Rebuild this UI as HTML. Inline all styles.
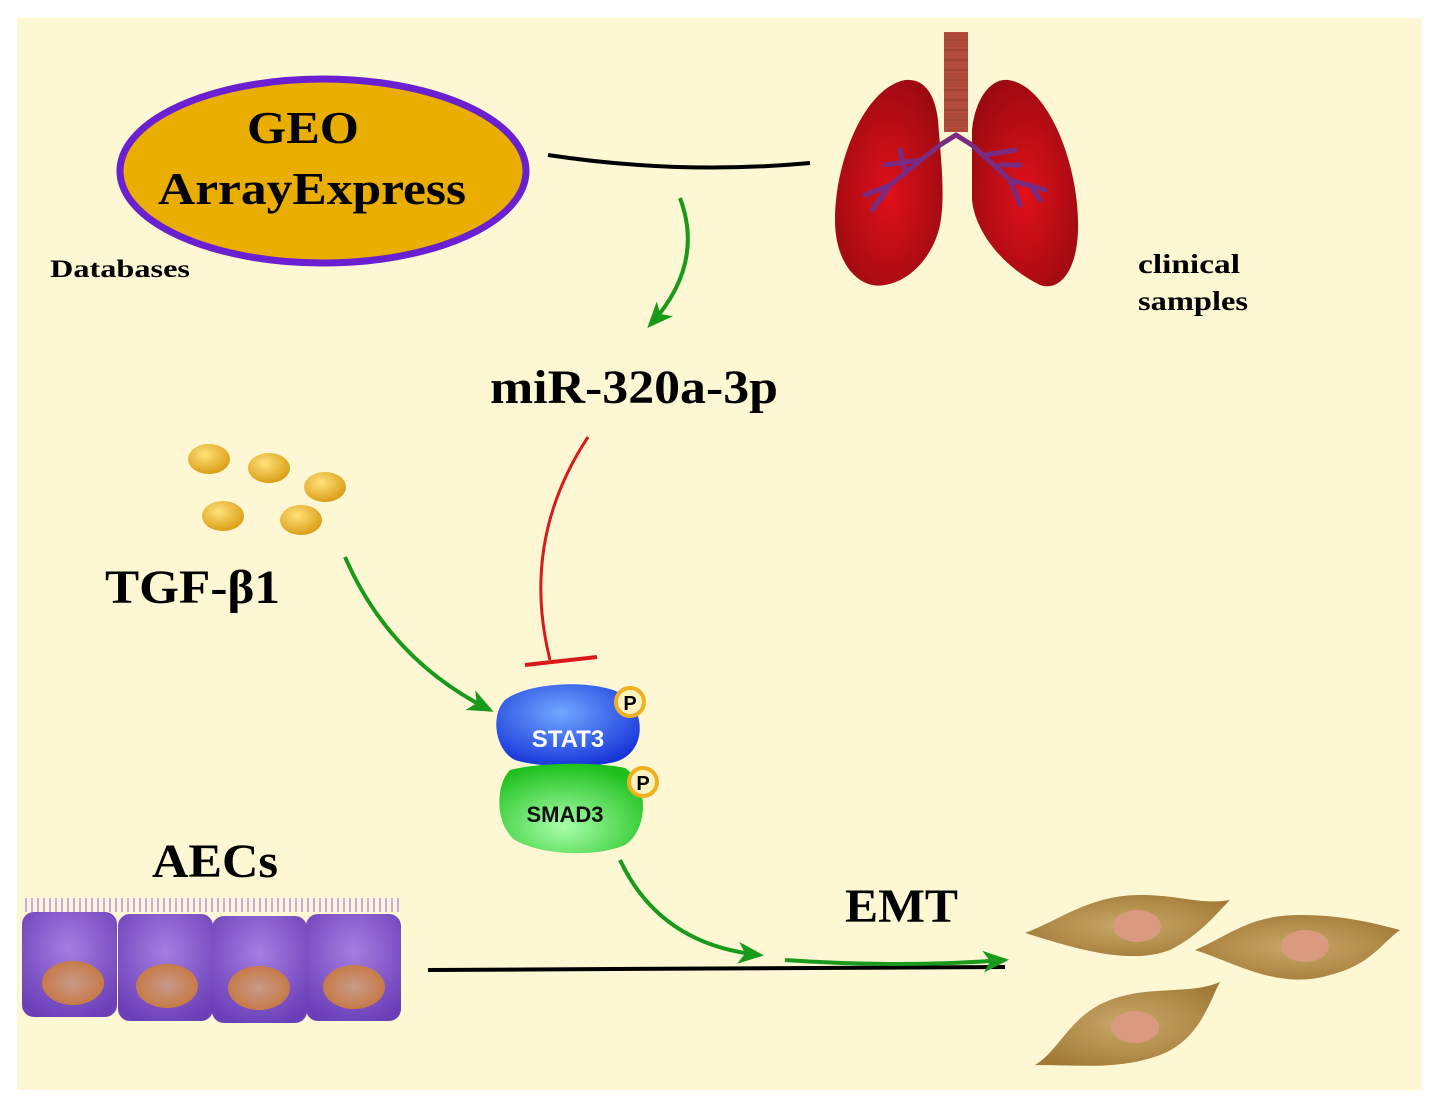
<!DOCTYPE html>
<html><head><style>body{margin:0;background:#fff}</style></head><body>
<svg width="1441" height="1109" viewBox="0 0 1441 1109" xmlns="http://www.w3.org/2000/svg" font-family="Liberation Serif, serif">
<defs>
<radialGradient id="lung" cx="0.5" cy="0.55" r="0.6"><stop offset="0" stop-color="#e0101a"/><stop offset="1" stop-color="#9a0a10"/></radialGradient>
<radialGradient id="ball" cx="0.4" cy="0.35" r="0.7"><stop offset="0" stop-color="#ffe27a"/><stop offset="1" stop-color="#d99a10"/></radialGradient>
<radialGradient id="blue" cx="0.45" cy="0.35" r="0.7"><stop offset="0" stop-color="#6fa8ff"/><stop offset="1" stop-color="#1430d8"/></radialGradient>
<radialGradient id="green" cx="0.45" cy="0.7" r="0.7"><stop offset="0" stop-color="#a8ffa8"/><stop offset="1" stop-color="#1ec01e"/></radialGradient>
<radialGradient id="cell" cx="0.5" cy="0.35" r="0.7"><stop offset="0" stop-color="#a47ee0"/><stop offset="1" stop-color="#6a3fb8"/></radialGradient>
<radialGradient id="nuc" cx="0.5" cy="0.5" r="0.6"><stop offset="0" stop-color="#c89a8a"/><stop offset="1" stop-color="#c6743a"/></radialGradient>
<radialGradient id="fib" cx="0.5" cy="0.5" r="0.6"><stop offset="0" stop-color="#c9a86a"/><stop offset="1" stop-color="#a27a36"/></radialGradient>
<marker id="ga" markerWidth="26" markerHeight="22" refX="22" refY="11" orient="auto" markerUnits="userSpaceOnUse" viewBox="0 0 26 22"><path d="M0,0 L26,11 L0,22 L7,11z" fill="#1a9a1a"/></marker>
</defs>
<rect x="17" y="18" width="1405" height="1072" fill="#fdf7d4"/>
<ellipse cx="323" cy="171" rx="203" ry="92" fill="#e9ae00" stroke="#6a1fd0" stroke-width="7"/>
<text x="247" y="143" font-size="46" font-weight="bold" textLength="112" lengthAdjust="spacingAndGlyphs">GEO</text>
<text x="158" y="204" font-size="46" font-weight="bold" textLength="308" lengthAdjust="spacingAndGlyphs">ArrayExpress</text>
<text x="50" y="277" font-size="25" font-weight="bold" textLength="140" lengthAdjust="spacingAndGlyphs">Databases</text>
<text x="1138" y="273" font-size="27" font-weight="bold" textLength="102" lengthAdjust="spacingAndGlyphs">clinical</text>
<text x="1138" y="310" font-size="27" font-weight="bold" textLength="110" lengthAdjust="spacingAndGlyphs">samples</text>
<path d="M548,155 Q680,175 810,163" stroke="#000" stroke-width="4" fill="none"/>
<rect x="944" y="32" width="24" height="100" fill="#b04a3a"/>
<g stroke="#8a3a30" stroke-width="1">
<line x1="944" y1="40" x2="968" y2="40"/><line x1="944" y1="50" x2="968" y2="50"/><line x1="944" y1="60" x2="968" y2="60"/><line x1="944" y1="70" x2="968" y2="70"/><line x1="944" y1="80" x2="968" y2="80"/><line x1="944" y1="90" x2="968" y2="90"/><line x1="944" y1="100" x2="968" y2="100"/><line x1="944" y1="110" x2="968" y2="110"/><line x1="944" y1="120" x2="968" y2="120"/></g>
<path d="M905,80 C865,88 835,160 835,220 C835,265 860,290 885,285 C915,280 935,250 940,225 C946,195 940,150 938,120 C935,95 925,78 905,80z" fill="url(#lung)"/>
<path d="M1008,80 C1050,85 1080,170 1078,230 C1077,270 1060,292 1040,285 C1000,265 975,230 972,200 L972,130 C975,100 990,78 1008,80z" fill="url(#lung)"/>
<g stroke="#7a2a80" stroke-width="5" fill="none" stroke-linecap="round">
<path d="M956,135 L940,145 L890,185 L865,195 M920,160 L885,165 M905,170 L900,150 M890,185 L880,200 M890,185 L872,210"/>
<path d="M956,135 L972,145 L1010,180 L1045,190 M985,155 L1015,150 M1000,165 L1020,165 M1010,180 L1020,205 M1030,185 L1040,200"/>
</g>
<path d="M680,198 Q705,265 650,325" stroke="#1a9a1a" stroke-width="4" fill="none" marker-end="url(#ga)"/>
<text x="490" y="403" font-size="48" font-weight="bold" textLength="288" lengthAdjust="spacingAndGlyphs">miR-320a-3p</text>
<ellipse cx="209" cy="459" rx="21" ry="15" fill="url(#ball)"/>
<ellipse cx="269" cy="468" rx="21" ry="15" fill="url(#ball)"/>
<ellipse cx="325" cy="487" rx="21" ry="15" fill="url(#ball)"/>
<ellipse cx="223" cy="516" rx="21" ry="15" fill="url(#ball)"/>
<ellipse cx="301" cy="520" rx="21" ry="15" fill="url(#ball)"/>
<text x="105" y="603" font-size="48" font-weight="bold" textLength="175" lengthAdjust="spacingAndGlyphs">TGF-β1</text>
<path d="M345,557 Q390,660 490,710" stroke="#1a9a1a" stroke-width="4" fill="none" marker-end="url(#ga)"/>
<path d="M588,437 Q520,540 550,660" stroke="#d81a1a" stroke-width="3" fill="none"/>
<line x1="525" y1="665" x2="597" y2="657" stroke="#d81a1a" stroke-width="4"/>
<path d="M505,700 C530,680 610,678 630,700 C648,725 640,755 615,762 C590,768 540,768 515,760 C495,750 490,715 505,700z" fill="url(#blue)"/>
<text x="568" y="747" font-family="Liberation Sans, sans-serif" font-size="24" font-weight="bold" fill="#fff" text-anchor="middle">STAT3</text>
<path d="M510,770 C540,762 600,762 625,768 C650,785 648,830 625,845 C595,858 540,855 515,840 C495,825 495,785 510,770z" fill="url(#green)"/>
<text x="565" y="822" font-family="Liberation Sans, sans-serif" font-size="22" font-weight="bold" fill="#111" text-anchor="middle">SMAD3</text>
<circle cx="630" cy="702" r="14" fill="#fff3c0" stroke="#f0b020" stroke-width="4"/>
<text x="630" y="710" font-family="Liberation Sans, sans-serif" font-size="20" font-weight="bold" text-anchor="middle">P</text>
<circle cx="643" cy="782" r="14" fill="#fff3c0" stroke="#f0b020" stroke-width="4"/>
<text x="643" y="790" font-family="Liberation Sans, sans-serif" font-size="20" font-weight="bold" text-anchor="middle">P</text>
<path d="M620,860 Q660,945 760,955" stroke="#1a9a1a" stroke-width="4" fill="none" marker-end="url(#ga)"/>
<text x="152" y="877" font-size="48" font-weight="bold" textLength="126" lengthAdjust="spacingAndGlyphs">AECs</text>
<text x="845" y="922" font-size="48" font-weight="bold" textLength="113" lengthAdjust="spacingAndGlyphs">EMT</text>
<line x1="428" y1="970" x2="1005" y2="967" stroke="#000" stroke-width="4"/>
<path d="M785,960 Q900,968 1005,960" stroke="#1a9a1a" stroke-width="4" fill="none" marker-end="url(#ga)"/>
<path d="M25,905 L400,905" stroke="#c8a8e8" stroke-dasharray="2,4" stroke-width="14"/>
<rect x="22" y="912" width="95" height="105" rx="12" fill="url(#cell)"/>
<rect x="118" y="914" width="95" height="107" rx="12" fill="url(#cell)"/>
<rect x="212" y="916" width="95" height="107" rx="12" fill="url(#cell)"/>
<rect x="306" y="914" width="95" height="107" rx="12" fill="url(#cell)"/>
<ellipse cx="73" cy="983" rx="31" ry="22" fill="url(#nuc)"/>
<ellipse cx="167" cy="986" rx="31" ry="22" fill="url(#nuc)"/>
<ellipse cx="259" cy="988" rx="31" ry="22" fill="url(#nuc)"/>
<ellipse cx="354" cy="987" rx="31" ry="22" fill="url(#nuc)"/>
<path d="M1025,933 C1060,920 1090,895 1140,895 C1180,895 1200,905 1230,900 C1215,915 1200,935 1170,950 C1130,965 1080,950 1025,933z" fill="url(#fib)"/>
<ellipse cx="1137" cy="926" rx="24" ry="16" fill="#d99a80"/>
<path d="M1195,950 C1230,935 1250,915 1300,915 C1340,915 1370,922 1400,930 C1380,945 1370,965 1330,975 C1280,990 1240,965 1195,950z" fill="url(#fib)"/>
<ellipse cx="1305" cy="946" rx="24" ry="16" fill="#d99a80"/>
<path d="M1035,1065 C1060,1050 1070,1015 1110,1000 C1150,985 1190,995 1220,982 C1210,1000 1200,1040 1160,1055 C1120,1070 1080,1065 1035,1065z" fill="url(#fib)"/>
<ellipse cx="1135" cy="1027" rx="24" ry="16" fill="#d99a80"/>
</svg>
</body></html>
